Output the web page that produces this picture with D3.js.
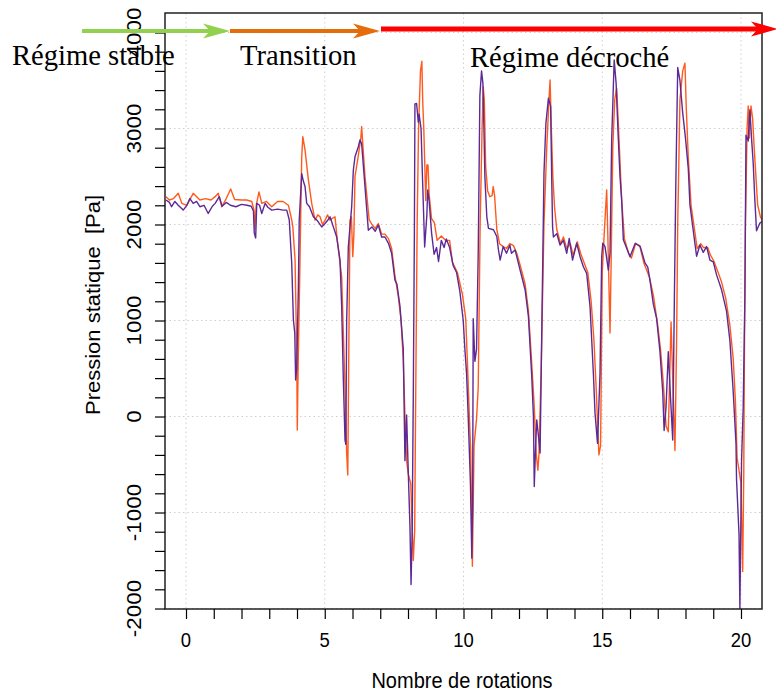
<!DOCTYPE html>
<html>
<head>
<meta charset="utf-8">
<script src="https://cdn.jsdelivr.net/npm/d3@7"></script>
<style>
  html, body { margin: 0; padding: 0; background: #fff; }
  svg { display: block; }
</style>
</head>
<body>
<svg id="chart" width="776" height="693"></svg>
<script>
// ---------- DATA ----------
const xTickValues = [0, 5, 10, 15, 20];
const yTickValues = [-2000, -1000, 0, 1000, 2000, 3000, 4000];

// Purple series: [rotation, pressure Pa]
const purpleSeries = [
[-0.72,2255],[-0.6,2230],[-0.52,2185],[-0.4,2240],[-0.28,2200],[-0.1,2150],[0.03,2200],[0.14,2270],[0.26,2220],[0.38,2240],[0.5,2185],[0.65,2200],[0.8,2115],[0.95,2190],[1.05,2220],[1.2,2290],[1.3,2190],[1.45,2230],[1.6,2200],[1.8,2185],[2.0,2210],[2.2,2200],[2.35,2190],[2.43,2140],[2.46,1910],[2.51,1860],[2.55,2220],[2.65,2200],[2.73,2115],[2.85,2220],[2.95,2180],[3.09,2150],[3.3,2160],[3.5,2150],[3.63,2150],[3.72,2050],[3.81,1595],[3.87,1005],[3.92,870],[3.95,380],[3.99,500],[4.05,1350],[4.08,2045],[4.17,2530],[4.23,2450],[4.29,2395],[4.35,2220],[4.45,2185],[4.59,2080],[4.72,2045],[4.89,1975],[5.01,2010],[5.12,2050],[5.19,2080],[5.31,1975],[5.43,1870],[5.55,1630],[5.61,1145],[5.67,380],[5.73,-245],[5.76,-290],[5.79,1005],[5.85,1770],[5.97,2185],[6.03,2565],[6.09,2705],[6.21,2810],[6.27,2880],[6.33,2840],[6.45,2395],[6.57,1940],[6.7,1975],[6.82,1930],[6.93,1995],[7.05,1870],[7.17,1870],[7.3,1800],[7.41,1700],[7.53,1420],[7.6,1380],[7.71,1150],[7.83,700],[7.89,-460],[7.95,15],[8.01,-580],[8.07,-1140],[8.11,-1750],[8.15,-1200],[8.19,200],[8.23,1910],[8.25,3255],[8.31,3260],[8.37,3065],[8.4,3150],[8.47,3000],[8.52,2510],[8.6,1765],[8.68,2100],[8.71,2360],[8.76,2250],[8.85,1910],[8.94,1690],[9.03,1760],[9.1,1615],[9.2,1835],[9.3,1760],[9.38,1850],[9.5,1760],[9.63,1570],[9.75,1500],[9.87,1300],[9.99,1000],[10.05,700],[10.11,450],[10.17,0],[10.25,-700],[10.3,-1475],[10.33,-900],[10.35,1020],[10.41,575],[10.47,700],[10.53,1690],[10.59,3340],[10.65,3600],[10.7,3470],[10.74,2950],[10.77,2500],[10.84,2080],[10.9,1960],[11.08,1945],[11.2,1875],[11.26,1735],[11.32,1630],[11.43,1770],[11.55,1700],[11.67,1785],[11.73,1700],[11.86,1735],[12.04,1525],[12.22,1320],[12.34,1040],[12.46,415],[12.52,0],[12.55,-730],[12.6,-300],[12.64,-35],[12.7,-200],[12.76,-380],[12.85,1495],[12.9,2535],[12.97,3055],[13.06,3315],[13.14,3230],[13.18,2465],[13.21,1975],[13.24,1870],[13.36,1905],[13.48,1785],[13.6,1835],[13.72,1700],[13.81,1855],[13.93,1630],[14.08,1805],[14.2,1665],[14.32,1560],[14.44,1490],[14.56,1145],[14.62,800],[14.68,450],[14.74,35],[14.83,-280],[14.92,450],[14.98,1665],[15.02,1805],[15.1,1770],[15.22,1525],[15.28,1700],[15.34,2880],[15.43,3715],[15.5,3470],[15.57,2950],[15.64,2500],[15.7,2255],[15.76,1840],[16.0,1665],[16.19,1805],[16.37,1770],[16.54,1600],[16.64,1555],[16.72,1420],[16.84,1170],[16.96,1020],[17.08,675],[17.18,255],[17.23,-145],[17.3,100],[17.38,675],[17.45,255],[17.54,-245],[17.6,1250],[17.65,2395],[17.72,3635],[17.8,3500],[17.9,3160],[18.0,2900],[18.1,2585],[18.16,2205],[18.28,1935],[18.4,1670],[18.52,1785],[18.64,1710],[18.76,1770],[18.88,1630],[19.0,1610],[19.12,1475],[19.3,1320],[19.48,1095],[19.6,790],[19.72,255],[19.82,-280],[19.84,-660],[19.93,-1230],[19.96,-2000],[20.02,-470],[20.08,100],[20.14,1250],[20.18,2930],[20.26,2870],[20.32,3195],[20.38,2900],[20.44,2640],[20.5,2250],[20.56,1935],[20.68,2015],[20.76,2030]
];

// Orange series: [rotation, pressure Pa]
const orangeSeries = [
[-0.72,2290],[-0.6,2255],[-0.45,2270],[-0.28,2325],[-0.15,2220],[0.03,2200],[0.26,2325],[0.5,2255],[0.7,2270],[0.9,2255],[1.05,2290],[1.16,2325],[1.29,2185],[1.45,2270],[1.61,2370],[1.75,2260],[2.0,2255],[2.19,2255],[2.37,2240],[2.45,2150],[2.48,1950],[2.53,2200],[2.63,2340],[2.73,2220],[2.9,2240],[3.09,2185],[3.3,2240],[3.5,2240],[3.69,2200],[3.77,2100],[3.81,2045],[3.85,1975],[3.93,1630],[3.99,660],[4.01,-140],[4.04,500],[4.1,1500],[4.17,2705],[4.21,2915],[4.29,2775],[4.41,2465],[4.53,2220],[4.65,2045],[4.75,2100],[4.83,2080],[4.92,2000],[5.01,2045],[5.1,2100],[5.19,2045],[5.3,2070],[5.37,2080],[5.45,1840],[5.61,1455],[5.67,870],[5.73,310],[5.79,-385],[5.83,-610],[5.87,800],[5.91,2045],[5.96,2080],[6.01,1665],[6.05,1900],[6.09,2500],[6.2,2700],[6.3,2900],[6.33,3020],[6.38,2800],[6.45,2500],[6.55,2200],[6.6,2050],[6.7,2000],[6.82,1960],[6.93,2010],[7.05,1900],[7.17,1900],[7.3,1850],[7.41,1750],[7.53,1465],[7.65,1250],[7.75,1000],[7.83,580],[7.89,15],[7.95,-460],[8.01,-600],[8.1,-700],[8.19,-1500],[8.24,-1200],[8.28,300],[8.33,2000],[8.38,3000],[8.45,3600],[8.5,3700],[8.53,3285],[8.57,2990],[8.64,2250],[8.68,2620],[8.72,2620],[8.76,2320],[8.85,2060],[8.95,2020],[9.05,1835],[9.2,1880],[9.35,1835],[9.5,1835],[9.6,1610],[9.78,1500],[9.96,1275],[10.08,1020],[10.14,575],[10.2,90],[10.26,-360],[10.32,-1560],[10.38,-300],[10.47,-25],[10.53,300],[10.6,2000],[10.67,3000],[10.71,3435],[10.75,3300],[10.8,2600],[10.87,2350],[10.95,2290],[11.03,2300],[11.07,2395],[11.12,2300],[11.2,1950],[11.3,1800],[11.43,1770],[11.55,1750],[11.67,1800],[11.8,1780],[11.92,1700],[12.04,1580],[12.22,1380],[12.34,1100],[12.46,550],[12.55,100],[12.62,-385],[12.68,-560],[12.72,-385],[12.8,500],[12.9,2000],[13.0,2800],[13.08,3300],[13.12,3505],[13.16,3055],[13.22,2500],[13.28,2185],[13.36,1950],[13.5,1800],[13.6,1870],[13.72,1750],[13.85,1800],[13.95,1680],[14.1,1820],[14.22,1700],[14.35,1600],[14.48,1500],[14.6,1200],[14.7,800],[14.78,300],[14.88,-400],[14.94,-300],[15.0,1500],[15.08,1950],[15.16,2360],[15.2,1900],[15.28,870],[15.32,1600],[15.38,2800],[15.45,3300],[15.52,3420],[15.6,2915],[15.7,2255],[15.8,1850],[15.95,1700],[16.05,1650],[16.2,1800],[16.35,1780],[16.5,1600],[16.7,1450],[16.85,1250],[17.0,950],[17.1,700],[17.2,350],[17.3,-100],[17.38,-160],[17.48,985],[17.54,400],[17.62,-355],[17.68,800],[17.72,2000],[17.8,3300],[17.9,3600],[17.98,3680],[18.03,3200],[18.1,2700],[18.2,2200],[18.3,2000],[18.42,1750],[18.55,1800],[18.65,1760],[18.8,1760],[18.9,1680],[19.02,1620],[19.15,1520],[19.3,1400],[19.45,1230],[19.6,950],[19.72,600],[19.8,150],[19.86,-430],[19.95,-600],[20.0,-700],[20.06,-1615],[20.1,-600],[20.12,500],[20.16,2000],[20.22,3000],[20.26,3235],[20.3,2900],[20.36,3235],[20.42,3100],[20.48,2775],[20.6,2205],[20.7,2080],[20.76,2050]
];

// Regime annotations
const regimeLabels = ["Régime stable", "Transition", "Régime décroché"];
const regimeColors = ["#92D050", "#E46C0A", "#FF0000"];

// ---------- LAYOUT ----------
const svg = d3.select("#chart");
const L = 165, R = 762, T = 13, B = 609;
const sans = "Liberation Sans, Arial, sans-serif";

const x = d3.scaleLinear().domain([-0.757, 20.757]).range([L, R]);
const y = d3.scaleLinear().domain([-2005, 4203]).range([B, T]);

// grid
const grid = svg.append("g");
grid.selectAll(".gx").data(xTickValues).enter().append("line")
  .attr("x1", d => x(d)).attr("x2", d => x(d)).attr("y1", T).attr("y2", B)
  .attr("stroke", "#cfcfcf").attr("stroke-width", 1).attr("stroke-dasharray", "1.5,3");
grid.selectAll(".gy").data(yTickValues).enter().append("line")
  .attr("x1", L).attr("x2", R).attr("y1", d => y(d)).attr("y2", d => y(d))
  .attr("stroke", "#cfcfcf").attr("stroke-width", 1).attr("stroke-dasharray", "1.5,3");

// clip
svg.append("clipPath").attr("id", "clip").append("rect")
  .attr("x", L).attr("y", T).attr("width", R - L).attr("height", B - T);

const line = d3.line().x(d => x(d[0])).y(d => y(d[1]));
const plot = svg.append("g").attr("clip-path", "url(#clip)");
plot.append("path").datum(orangeSeries).attr("d", line)
  .attr("fill", "none").attr("stroke", "#FF5A1E").attr("stroke-width", 1.4).attr("stroke-linejoin", "round");
plot.append("path").datum(purpleSeries).attr("d", line)
  .attr("fill", "none").attr("stroke", "#5B2A96").attr("stroke-width", 1.4).attr("stroke-linejoin", "round");

// frame
svg.append("rect").attr("x", L).attr("y", T).attr("width", R - L).attr("height", B - T)
  .attr("fill", "none").attr("stroke", "#222").attr("stroke-width", 1.5);

// x axis
const xAxis = d3.axisBottom(x).tickValues(d3.range(0, 21)).tickSize(10).tickSizeOuter(0)
  .tickFormat("");
const gx = svg.append("g").attr("transform", `translate(0,${B})`).call(xAxis);
gx.select(".domain").remove();
gx.selectAll(".tick line").attr("stroke", "#000").attr("stroke-width", 1.2);
svg.append("g").selectAll("text").data(xTickValues).enter().append("text")
  .attr("transform", d => `translate(${x(d)},647) scale(1,1.12)`)
  .attr("text-anchor", "middle")
  .attr("font-family", sans).attr("font-size", 18.5).attr("fill", "#000")
  .text(d => d);

// y axis
const yAxis = d3.axisLeft(y).tickValues(d3.range(-2000, 4001, 200)).tickSize(10).tickSizeOuter(0)
  .tickFormat("");
const gy = svg.append("g").attr("transform", `translate(${L},0)`).call(yAxis);
gy.select(".domain").remove();
gy.selectAll(".tick line").attr("stroke", "#000").attr("stroke-width", 1.2);
svg.append("g").selectAll("text").data(yTickValues).enter().append("text")
  .attr("transform", d => `translate(141,${y(d)}) rotate(-90) scale(1.12,1)`)
  .attr("text-anchor", "middle")
  .attr("font-family", sans).attr("font-size", 20)
  .text(d => d);

// axis titles
svg.append("text").attr("transform", "translate(462,688) scale(1,1.1)").attr("text-anchor", "middle")
  .attr("font-family", sans).attr("font-size", 20)
  .text("Nombre de rotations");
svg.append("text").attr("transform", `translate(100,${305}) rotate(-90) scale(1.1,1)`).attr("text-anchor", "middle")
  .attr("font-family", sans).attr("font-size", 20)
  .attr("xml:space", "preserve")
  .text("Pression statique  [Pa]");

// regime arrows
const arrows = [
  {x1: 82, x2: 230, y: 31, w: 4},
  {x1: 230, x2: 380, y: 31, w: 4},
  {x1: 381, x2: 778, y: 29, w: 5}
];
arrows.forEach((a, i) => {
  const g = svg.append("g");
  g.append("line").attr("x1", a.x1).attr("x2", a.x2 - 18).attr("y1", a.y).attr("y2", a.y)
    .attr("stroke", regimeColors[i]).attr("stroke-width", a.w);
  g.append("path")
    .attr("d", `M${a.x2},${a.y} L${a.x2 - 27},${a.y - 7.5} L${a.x2 - 20},${a.y} L${a.x2 - 27},${a.y + 7.5} Z`)
    .attr("fill", regimeColors[i]);
});

// regime texts
const textPos = [{x: 12, y: 65}, {x: 240, y: 65}, {x: 470, y: 67}];
regimeLabels.forEach((t, i) => {
  svg.append("text").attr("x", textPos[i].x).attr("y", textPos[i].y)
    .attr("font-family", "Liberation Serif, 'Times New Roman', serif").attr("font-size", 28.6)
    .attr("fill", "#000").text(t);
});
</script>
</body>
</html>
